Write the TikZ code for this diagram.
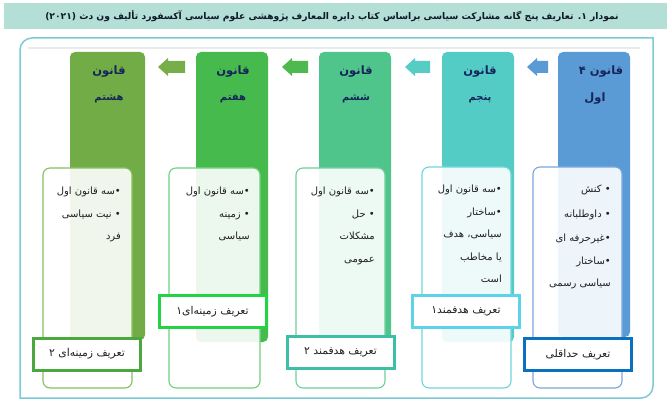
\documentclass[tikz,border=0pt]{standalone}
\usepackage{fontspec}
\newfontfamily\fa[Script=Arabic]{DejaVu Sans}
\TeXXeTstate=1
\definecolor{titlebg}{HTML}{B4DFD7}
\definecolor{titlec}{HTML}{101828}
\definecolor{framec}{HTML}{7CCAD5}
\definecolor{navy}{HTML}{152459}
\definecolor{bodyc}{HTML}{202020}
\definecolor{c1}{HTML}{5B9BD5}
\definecolor{c2}{HTML}{53CCC6}
\definecolor{c3}{HTML}{4FC48B}
\definecolor{c4}{HTML}{47BA4E}
\definecolor{c5}{HTML}{72AC47}
\definecolor{a2}{HTML}{56CDC4}
\definecolor{a3}{HTML}{4DB94F}
\definecolor{a4}{HTML}{78AE4A}
\definecolor{l1}{HTML}{0A70C0}
\definecolor{l2}{HTML}{5DD3EA}
\definecolor{l3}{HTML}{3DBFA5}
\definecolor{l4}{HTML}{22D445}
\definecolor{l5}{HTML}{4AA83F}
\definecolor{b1}{HTML}{7AA6DC}
\definecolor{b2}{HTML}{6FD4D9}
\definecolor{b3}{HTML}{6FCF9C}
\definecolor{b4}{HTML}{6FD07A}
\definecolor{b5}{HTML}{88BE60}
\begin{document}
\begin{tikzpicture}[x=1pt,y=-1pt,
  every node/.style={font=\fa},
  column/.style={rounded corners=5pt},
  innerbox/.style={rounded corners=7pt, line width=1.1pt, fill=white, fill opacity=0.9},
  labelbox/.style={draw, line width=3pt, fill=white, minimum width=107pt, minimum height=32pt, inner sep=0pt, font=\fa\fontsize{10.8}{12}\selectfont, text=bodyc},
  ctitle/.style={font=\fa\bfseries\fontsize{11.5}{13}\selectfont, text=navy, inner sep=0pt},
  ctitleb/.style={font=\fa\bfseries\fontsize{10}{12}\selectfont, text=navy, inner sep=0pt},
  bullets/.style={anchor=north east, align=right, inner sep=0pt, text=bodyc, font=\fa\fontsize{10}{22.5}\selectfont}]
\fill[white] (0,0) rectangle (667,417);
\useasboundingbox (0,0) rectangle (667,417);
% title bar
\fill[titlebg] (4,3) rectangle (667,29);
\node[font=\fa\bfseries\fontsize{9.2}{12}\selectfont, text=titlec] (title) at (332,16)
  {\beginR نمودار ۱. تعاریف پنج گانه مشارکت سیاسی براساس کتاب دایره المعارف پژوهشی علوم سیاسی آکسفورد تألیف ون دث \beginL(۲۰۲۱)\endL\endR};
% frame
\draw[black!8, line width=2pt] (28,48) -- (640,48);
\draw[framec, line width=1.5pt] (20,398) -- (20,50) arc[start angle=180, end angle=270, radius=12] -- (653,38) -- (653,386) arc[start angle=0, end angle=90, radius=12] -- cycle;
% columns
\fill[c1, column] (558,52) rectangle (630,337);
\fill[c2, column] (442,52) rectangle (514,342);
\fill[c3, column] (319,52) rectangle (391,340);
\fill[c4, column] (196,52) rectangle (268,342);
\fill[c5, column] (70,52) rectangle (145,340);
% block arrows
\fill[c1] (527,67) -- (537,58) -- (537,61) -- (548,61) -- (548,73) -- (537,73) -- (537,76) -- cycle;
\fill[a2] (405,67) -- (415,58) -- (415,61) -- (430,61) -- (430,73) -- (415,73) -- (415,76) -- cycle;
\fill[a3] (282,67) -- (292,58) -- (292,61) -- (308,61) -- (308,73) -- (292,73) -- (292,76) -- cycle;
\fill[a4] (158,67) -- (168,58) -- (168,61) -- (185,61) -- (185,73) -- (168,73) -- (168,76) -- cycle;
% column titles
\node[ctitle] (t1) at (601,72) {۴ \beginR قانون\endR};
\node[ctitle] (t1b) at (595,99) {\beginR اول\endR};
\node[ctitle] (t2) at (480,72) {\beginR قانون\endR};
\node[ctitleb] (t2b) at (480,99) {\beginR پنجم\endR};
\node[ctitle] (t3) at (356,72) {\beginR قانون\endR};
\node[ctitleb] (t3b) at (356,99) {\beginR ششم\endR};
\node[ctitle] (t4) at (233,72) {\beginR قانون\endR};
\node[ctitleb] (t4b) at (233,99) {\beginR هفتم\endR};
\node[ctitle] (t5) at (109,72) {\beginR قانون\endR};
\node[ctitleb] (t5b) at (109,99) {\beginR هشتم\endR};
% inner boxes
\draw[b1, innerbox] (533,167) rectangle (622,388);
\draw[b2, innerbox] (422,167) rectangle (511,388);
\draw[b3, innerbox] (296,168) rectangle (385,388);
\draw[b4, innerbox] (169,168) rectangle (260,388);
\draw[b5, innerbox] (43,168) rectangle (132,388);
% bullet texts
\node[bullets] (x1) at (611,185) {\beginR• کنش\endR\\[2pt]\beginR• داوطلبانه\endR\\[2pt]\beginR•غیرحرفه ای\endR\\\beginR•ساختار\endR\\\beginR سیاسی رسمی\endR\hspace{3pt}};
\node[bullets] (x2) at (502,185) {\beginR•سه قانون اول\endR\\\beginR•ساختار\endR\\\beginR سیاسی، هدف\endR\hspace{5pt}\\\beginR یا  مخاطب\endR\hspace{5pt}\\\beginR است\endR\hspace{5pt}};
\node[bullets] (x3) at (375,187) {\beginR•سه قانون اول\endR\\\beginR• حل\endR\\\beginR مشکلات\endR\hspace{9pt}\\\beginR عمومی\endR\hspace{9pt}};
\node[bullets] (x4) at (250,187) {\beginR•سه قانون اول\endR\\\beginR• زمینه\endR\\\beginR سیاسی\endR\hspace{9pt}};
\node[bullets] (x5) at (121,187) {\beginR•سه قانون اول\endR\\\beginR• نیت سیاسی\endR\\\beginR فرد\endR\hspace{9pt}};
% labels
\node[labelbox, draw=l1] (d1) at (578,354.5) {\beginR تعریف حداقلی\endR};
\node[labelbox, draw=l2] (d2) at (466,311.5) {۱\beginR تعریف هدفمند\endR};
\node[labelbox, draw=l3] (d3) at (340.5,352) {۲ \beginR تعریف هدفمند\endR};
\node[labelbox, draw=l4] (d4) at (212.5,311.5) {۱\beginR تعریف زمینه‌ای\endR};
\node[labelbox, draw=l5] (d5) at (87,354) {۲ \beginR تعریف زمینه‌ای\endR};
\end{tikzpicture}
\end{document}
